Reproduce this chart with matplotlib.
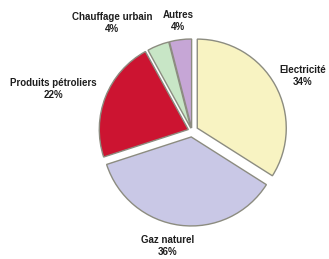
import matplotlib.pyplot as plt

# ---- data ----
labels = ["Electricité", "Gaz naturel", "Produits pétroliers", "Chauffage urbain", "Autres"]
shares = [34, 36, 22, 4, 4]

# ---- style ----
colors = ["#f8f3c2", "#c9c8e6", "#cc1431", "#c8e6c6", "#c6a6d6"]
explode = [6, 6, 4, 3, 3]  # pixels (pie explode is not scaled by radius)
label_pos = [(303, -76), (168, -246), (53, -89), (112, -23), (178, -21)]

fig = plt.figure(figsize=(3.29, 2.59), dpi=100)
ax = fig.add_axes([0, 0, 1, 1])

ax.pie(shares, colors=colors, explode=explode, startangle=90,
       counterclock=False, radius=89, center=(192, -131),
       frame=True,
       wedgeprops=dict(edgecolor="#8c8c80", linewidth=1.0))
ax.set_xlim(0, 329)
ax.set_ylim(-259, 0)
ax.set_aspect("equal")
ax.axis("off")

for lab, val, (x, y) in zip(labels, shares, label_pos):
    ax.text(x, y, f"{lab}\n{val}%", ha="center", va="center",
            fontsize=7, fontweight="bold", color="#1e1e1e",
            family="Liberation Sans", linespacing=1.35)

fig.savefig("out.png", dpi=100)
